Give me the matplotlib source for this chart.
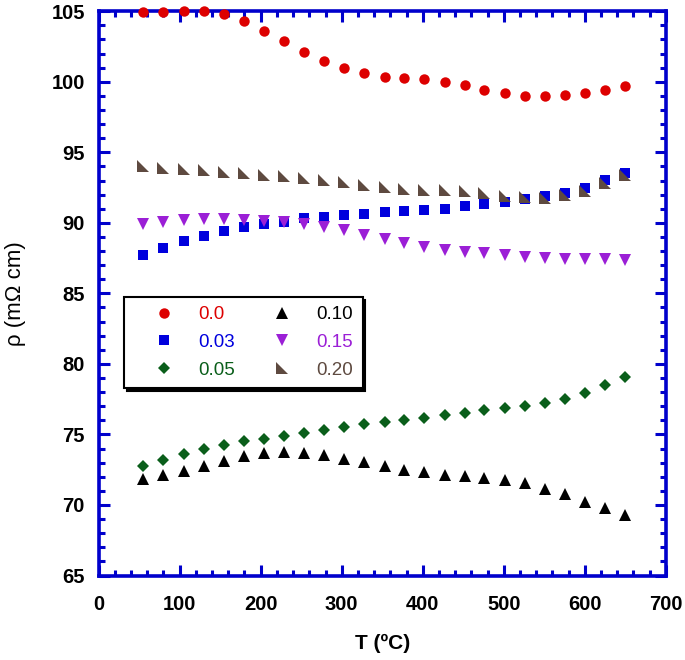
import matplotlib
matplotlib.use('Agg')
import matplotlib.pyplot as plt
from matplotlib.path import Path
from matplotlib.ticker import MultipleLocator

plt.rcParams['font.family'] = ['Liberation Sans', 'DejaVu Sans']

# temperature (ºC)
T = [55, 80, 105, 130, 155, 180, 204, 229, 254, 278, 303, 328, 353,
     377, 402, 427, 452, 476, 501, 526, 551, 575, 600, 625, 650]

# resistivity (mOhm cm) for each composition
rho_000 = [104.95, 104.98, 105.0, 105.0, 104.8, 104.3, 103.6, 102.9, 102.1,
           101.45, 100.95, 100.6, 100.35, 100.26, 100.17, 100.0, 99.74, 99.43,
           99.17, 98.98, 98.96, 99.03, 99.2, 99.4, 99.67]
rho_003 = [87.69, 88.21, 88.68, 89.1, 89.43, 89.69, 89.93, 90.09, 90.31, 90.4,
           90.52, 90.64, 90.75, 90.85, 90.92, 91.01, 91.2, 91.37, 91.51, 91.67,
           91.89, 92.15, 92.5, 93.02, 93.51]
rho_005 = [72.74, 73.19, 73.6, 73.95, 74.28, 74.51, 74.7, 74.9, 75.12, 75.28,
           75.53, 75.72, 75.86, 76.0, 76.16, 76.35, 76.51, 76.7, 76.84, 77.0,
           77.2, 77.5, 77.97, 78.53, 79.1]
rho_010 = [71.86, 72.14, 72.44, 72.74, 73.09, 73.44, 73.72, 73.79, 73.72, 73.53,
           73.28, 73.02, 72.74, 72.51, 72.33, 72.16, 72.05, 71.93, 71.74, 71.53,
           71.16, 70.77, 70.23, 69.77, 69.26]
rho_015 = [89.93, 90.09, 90.21, 90.26, 90.26, 90.21, 90.14, 90.09, 89.91, 89.74,
           89.46, 89.15, 88.87, 88.56, 88.3, 88.09, 87.95, 87.83, 87.69, 87.59,
           87.5, 87.45, 87.43, 87.41, 87.38]
rho_020 = [94.03, 93.92, 93.82, 93.73, 93.63, 93.51, 93.4, 93.3, 93.16, 93.02,
           92.88, 92.71, 92.55, 92.41, 92.33, 92.33, 92.26, 92.1, 91.93, 91.86,
           91.75, 91.98, 92.26, 92.8, 93.4]

labels = ['0.0', '0.03', '0.05', '0.10', '0.15', '0.20']
colors = ['#dd0000', '#0000dd', '#0a5e1a', '#000000', '#9b1fd6', '#5e4a40']

# right-angle triangle marker (vertical edge on the left)
corner = Path([(-1, 1), (-1, -1), (1, -1), (-1, 1)],
              [Path.MOVETO, Path.LINETO, Path.LINETO, Path.CLOSEPOLY])
markers = ['o', 's', 'D', '^', 'v', corner]
sizes = [7.5, 7, 6.5, 8.5, 8.5, 8]

fig = plt.figure(figsize=(6.85, 6.6), dpi=100)
ax = fig.add_axes([0.144, 0.128, 0.828, 0.855])

series = [rho_000, rho_003, rho_005, rho_010, rho_015, rho_020]
for y, lab, c, m, s in zip(series, labels, colors, markers, sizes):
    ax.plot(T, y, linestyle='none', marker=m, color=c, markersize=s,
            markeredgewidth=0, label=lab, clip_on=False, zorder=3)

ax.set_xlim(0, 700)
ax.set_ylim(65, 105)
ax.xaxis.set_major_locator(MultipleLocator(100))
ax.xaxis.set_minor_locator(MultipleLocator(20))
ax.yaxis.set_major_locator(MultipleLocator(5))
ax.yaxis.set_minor_locator(MultipleLocator(1))

blue = '#0000cc'
for sp in ax.spines.values():
    sp.set_color(blue)
    sp.set_linewidth(2.6)
ax.tick_params(which='both', direction='in', top=True, right=True,
               color=blue, width=2.2, labelsize=14.5)
ax.tick_params(axis='x', which='both', pad=14)
ax.tick_params(axis='y', which='both', pad=10)
ax.tick_params(which='major', length=8)
ax.tick_params(which='minor', length=4.5)
for t in ax.get_xticklabels() + ax.get_yticklabels():
    t.set_fontweight('bold')

ax.set_xlabel('T (ºC)', fontsize=15, fontweight='bold', labelpad=14)
ax.set_ylabel('ρ (mΩ cm)', fontsize=16, labelpad=18)

leg = ax.legend(ncol=2, loc='upper left', bbox_to_anchor=(0.045, 0.494),
                borderaxespad=0, fontsize=13.5, frameon=True, fancybox=False,
                shadow={'color': 'black', 'alpha': 1.0}, handlelength=3.2,
                handletextpad=0.25, columnspacing=0.9, borderpad=0.5,
                labelspacing=0.56)
leg.get_frame().set_edgecolor('black')
leg.get_frame().set_linewidth(1.5)
for txt, c in zip(leg.get_texts(), colors):
    txt.set_color(c)

fig.savefig('out.png', dpi=100)
